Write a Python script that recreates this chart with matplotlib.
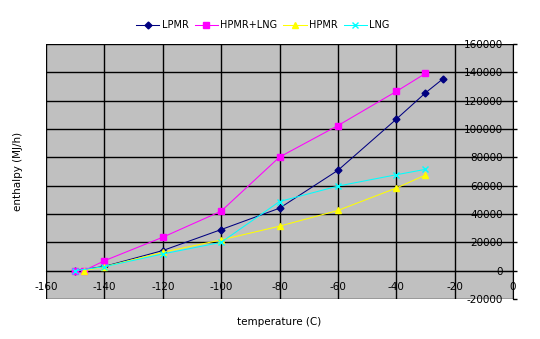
import matplotlib
matplotlib.use("Agg")
import matplotlib.pyplot as plt

# Data
lpmr_x = [-150, -140, -120, -100, -80, -60, -40, -30, -24]
lpmr_y = [0, 3000, 14200, 29000, 44100, 70800, 106900, 125500, 135400]

hpmr_lng_x = [-150, -147, -140, -120, -100, -80, -60, -40, -30]
hpmr_lng_y = [0, 0, 7000, 23600, 42000, 80200, 102400, 126500, 139200]

hpmr_x = [-147, -140, -120, -100, -80, -60, -40, -30]
hpmr_y = [0, 2800, 13000, 21700, 31400, 42500, 58300, 67500]

lng_x = [-150, -140, -120, -100, -80, -60, -40, -30]
lng_y = [0, 2800, 11800, 20000, 48800, 59700, 67700, 71500]

x_ticks = [-160, -140, -120, -100, -80, -60, -40, -20, 0]
y_ticks = [-20000, 0, 20000, 40000, 60000, 80000, 100000, 120000, 140000, 160000]

plt.rcParams['font.family'] = ['DejaVu Sans']

fig = plt.figure(figsize=(5.40, 3.39), dpi=100)
W, H = 540, 339
left, right, top, bottom = 46, 513, 44, 299
ax = fig.add_axes([left / W, 1 - bottom / H, (right - left) / W, (bottom - top) / H])
ax.set_facecolor('#c0c0c0')

ax.plot(lpmr_x, lpmr_y, color='#000080', lw=0.75, marker='D', ms=3.5, label='LPMR', zorder=3)
ax.plot(hpmr_lng_x, hpmr_lng_y, color='#ff00ff', lw=0.75, marker='s', ms=5, label='HPMR+LNG', zorder=3)
ax.plot(hpmr_x, hpmr_y, color='#ffff00', lw=0.75, marker='^', ms=5, label='HPMR', zorder=3)
ax.plot(lng_x, lng_y, color='#00ffff', lw=0.75, marker='x', ms=4, mew=1, label='LNG', zorder=3)

ax.set_xlim(-160, 0)
ax.set_ylim(-20000, 160000)
ax.set_xticks(x_ticks)
ax.set_yticks(y_ticks)
ax.set_xticklabels([str(v) for v in x_ticks])
ax.set_yticklabels([str(v) for v in y_ticks])

ax.grid(True, color='black', lw=1.0, zorder=1)
ax.set_axisbelow(True)

for s in ['top', 'left']:
    ax.spines[s].set_visible(False)
ax.spines['bottom'].set_position(('data', 0))
ax.spines['bottom'].set_color('black')
ax.spines['right'].set_color('black')

ax.yaxis.tick_right()
ax.tick_params(axis='y', direction='out', length=3, width=1, pad=-10, labelsize=7.5)
for lab in ax.get_yticklabels():
    lab.set_horizontalalignment('right')
ax.tick_params(axis='x', direction='out', length=0, pad=8, labelsize=7.5)

ax.set_xlabel('temperature (C)', fontsize=7.5, labelpad=0)
ax.xaxis.set_label_coords(0.5, -0.07)
ax.set_ylabel('enthalpy (MJ/h)', fontsize=7.5)
ax.yaxis.set_label_position('left')
ax.yaxis.set_label_coords(-0.05, 0.5)

fig.legend(loc='center', bbox_to_anchor=(263 / W, 1 - 25 / H), ncol=4, frameon=False,
           fontsize=7, handlelength=2.4, columnspacing=0.6, handletextpad=0.25)

fig.savefig('out.png', dpi=100, facecolor='white')
